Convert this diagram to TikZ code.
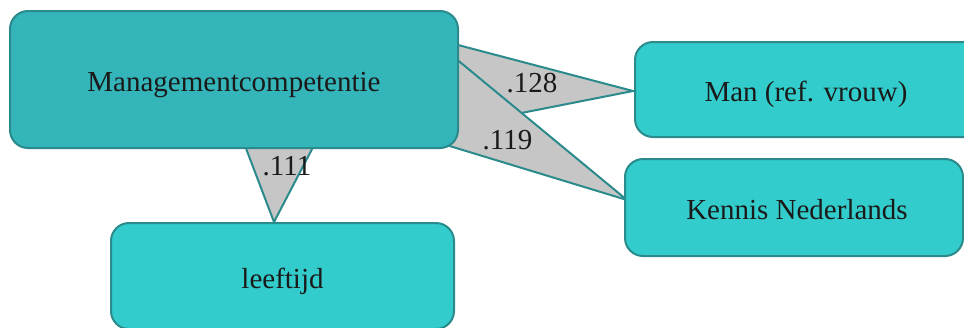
\documentclass[tikz,border=0pt]{standalone}
\usepackage{fontspec}
\setmainfont{Liberation Serif}
\definecolor{edgeteal}{HTML}{2A8A8C}
\definecolor{mainfill}{HTML}{33B5BA}
\definecolor{boxfill}{HTML}{33CCCC}
\definecolor{wedgefill}{HTML}{C6C6C6}
\definecolor{txt}{HTML}{1A1A1A}
\begin{document}
\begin{tikzpicture}[x=1pt,y=-1pt,
  varbox/.style={draw=edgeteal, line width=2pt, rounded corners=18pt, fill=boxfill,
    inner sep=0pt, text height=24pt, text depth=0pt, text=txt,
    font=\fontsize{29}{34}\selectfont},
  mainbox/.style={varbox, fill=mainfill},
  wedge/.style={draw=edgeteal, line width=2pt, fill=wedgefill, line join=miter},
  coef/.style={anchor=base, inner sep=0pt, text=txt, font=\fontsize{29}{34}\selectfont}]
\useasboundingbox (0,0) rectangle (964,327);
% wedge coordinates
\coordinate (a1) at (420,35);  \coordinate (a2) at (420,133); \coordinate (atip) at (633,91);
\coordinate (b1) at (420,29);  \coordinate (b2) at (420,137); \coordinate (btip) at (627,200);
\coordinate (c1) at (239,130); \coordinate (c2) at (322,130); \coordinate (ctip) at (274,222);
\draw[wedge] (a1) -- (atip) -- (a2) -- cycle;
\draw[wedge] (b1) -- (btip) -- (b2) -- cycle;
\draw[wedge] (c1) -- (ctip) -- (c2) -- cycle;
% boxes
\node[mainbox, minimum width=448pt, minimum height=137pt] (mc) at (234,79.5) {Managementcompetentie};
\node[varbox, minimum width=362pt, minimum height=95pt] (man) at (816,89.5) {\hspace*{-20pt}Man (ref. vrouw)};
\node[varbox, minimum width=338pt, minimum height=97pt] (ken) at (794,207.5) {\hspace*{6pt}Kennis Nederlands};
\node[varbox, minimum width=343pt, minimum height=106pt] (lee) at (282.5,276) {leeftijd};
% coefficients
\node[coef] (l128) at (532,92) {.128};
\node[coef] (l119) at (507.5,149) {.119};
\node[coef] (l111) at (287,175) {.111};
\end{tikzpicture}
\end{document}
